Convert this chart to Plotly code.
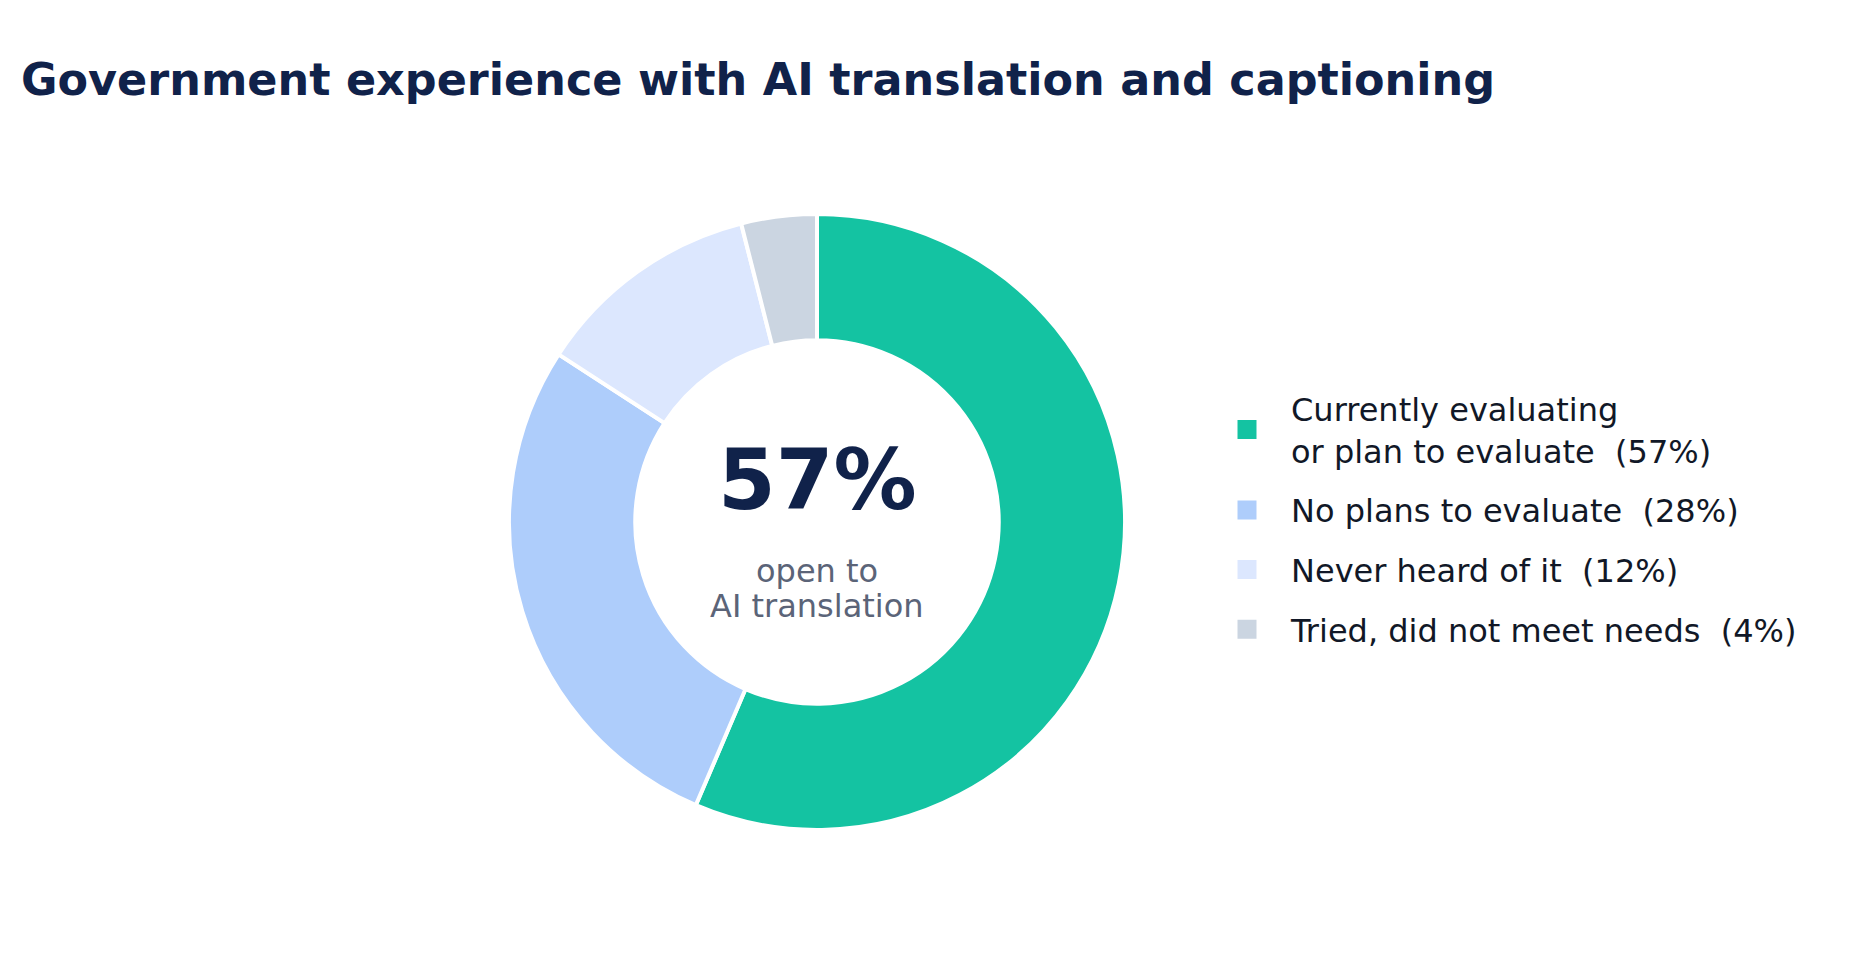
import plotly.graph_objects as go

labels = [
    "Currently evaluating<br>or plan to evaluate  (57%)",
    "No plans to evaluate  (28%)",
    "Never heard of it  (12%)",
    "Tried, did not meet needs  (4%)",
]
values = [57, 28, 12, 4]
colors = ["#14C3A2", "#AECDFB", "#DCE7FE", "#CBD5E1"]

title_text = "Government experience with AI translation and captioning"
center_big = "57%"
center_lines = ["open to", "AI translation"]

W, H = 1868, 966
cx, cy, r = 809, 514, 308  # donut centre / half-size in px

fig = go.Figure()

fig.add_trace(go.Pie(
    labels=labels,
    values=values,
    hole=0.59,
    sort=False,
    direction="clockwise",
    rotation=0,
    marker=dict(colors=colors, line=dict(color="white", width=4)),
    textinfo="none",
    hoverinfo="label+value",
    showlegend=False,
    domain=dict(x=[(cx - r) / W, (cx + r) / W], y=[1 - (cy + r) / H, 1 - (cy - r) / H]),
))

# legend entries (one group each so the rows can be spaced out)
for i, (lab, col) in enumerate(zip(labels, colors)):
    fig.add_trace(go.Scatter(
        x=[None], y=[None],
        mode="markers",
        marker=dict(symbol="square", size=16, color=col, line=dict(color=col, width=3)),
        name=lab,
        legendgroup=f"g{i}",
        hoverinfo="skip",
    ))

fig.add_annotation(
    text=f"<b>{center_big}</b>", x=cx / W, y=1 - (cy - 42) / H, xref="paper", yref="paper",
    showarrow=False, font=dict(family="DejaVu Sans", size=83, color="#10224A"),
    xanchor="center", yanchor="middle",
)
for txt, dy in zip(center_lines, [49, 84]):
    fig.add_annotation(
        text=txt, x=cx / W, y=1 - (cy + dy) / H, xref="paper", yref="paper",
        showarrow=False, font=dict(family="DejaVu Sans", size=32, color="#5B6478"),
        xanchor="center", yanchor="middle",
    )

fig.update_layout(
    width=W, height=H,
    margin=dict(l=0, r=0, t=0, b=0),
    paper_bgcolor="white",
    plot_bgcolor="white",
    title=dict(
        text=f"<b>{title_text}</b>",
        x=13 / W, xanchor="left", xref="container",
        y=1 - 71 / H, yanchor="middle", yref="container",
        font=dict(family="DejaVu Sans", size=44.5, color="#10224A"),
    ),
    xaxis=dict(visible=False),
    yaxis=dict(visible=False),
    legend=dict(
        x=1195 / W, xanchor="left",
        y=1 - (cy - 3) / H, yanchor="middle",
        font=dict(family="DejaVu Sans", size=32, color="#111827"),
        tracegroupgap=15,
        itemwidth=78,
        bgcolor="rgba(0,0,0,0)",
    ),
    font=dict(family="DejaVu Sans"),
)

fig.write_html("out.html")
